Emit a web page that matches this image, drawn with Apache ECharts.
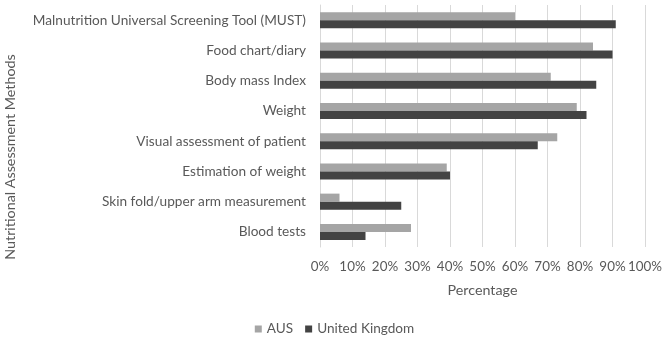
<!DOCTYPE html>
<html><head><meta charset="utf-8">
<script src="https://cdn.jsdelivr.net/npm/echarts@6/dist/echarts.min.js"></script>
<style>html,body{margin:0;padding:0;background:#fff}#c{width:669px;height:347px}</style>
</head><body><div id="c"></div>
<script>
const categories = ["Blood tests","Skin fold/upper arm measurement","Estimation of weight","Visual assessment of patient","Weight","Body mass Index","Food chart/diary","Malnutrition Universal Screening Tool (MUST)"];
const ausValues = [28, 6, 39, 73, 79, 71, 84, 60];
const ukValues = [14, 25, 40, 67, 82, 85, 90, 91];
const seriesNames = ["AUS", "United Kingdom"];
const FONT = "Lato";
const TXT = "#595959";
const chart = echarts.init(document.getElementById('c'));
chart.setOption({
  animation: false,
  textStyle: {fontFamily: FONT},
  grid: {left: 320, right: 24, top: 5, bottom: 100, containLabel: false},
  legend: {
    data: seriesNames, bottom: 6, left: 'center', itemWidth: 7, itemHeight: 7, itemGap: 12,
    icon: 'rect', textStyle: {color: TXT, fontSize: 13.6, fontFamily: FONT}
  },
  xAxis: {
    type: 'value', min: 0, max: 100, interval: 10,
    axisLabel: {formatter: '{value}%', color: TXT, fontSize: 13.4, margin: 13},
    splitLine: {lineStyle: {color: '#d9d9d9'}},
    axisLine: {show: false}, axisTick: {show: false},
    name: 'Percentage', nameLocation: 'middle', nameGap: 36,
    nameTextStyle: {color: TXT, fontSize: 14.3, fontFamily: FONT}
  },
  yAxis: {
    type: 'category', data: categories,
    axisLine: {show: true, lineStyle: {color: '#d9d9d9'}}, axisTick: {show: false},
    axisLabel: {color: TXT, fontSize: 13.65, margin: 14},
    name: 'Nutritional Assessment Methods', nameLocation: 'middle', nameGap: 303,
    nameTextStyle: {color: TXT, fontSize: 14.3, fontFamily: FONT, padding: [0, 62, 0, 0]}
  },
  series: [
    {name: seriesNames[0], type: 'bar', data: ausValues, barWidth: 8, barGap: '0%', itemStyle: {color: '#a5a5a5'}},
    {name: seriesNames[1], type: 'bar', data: ukValues, barWidth: 8, barGap: '0%', itemStyle: {color: '#434343'}}
  ]
});
</script></body></html>
